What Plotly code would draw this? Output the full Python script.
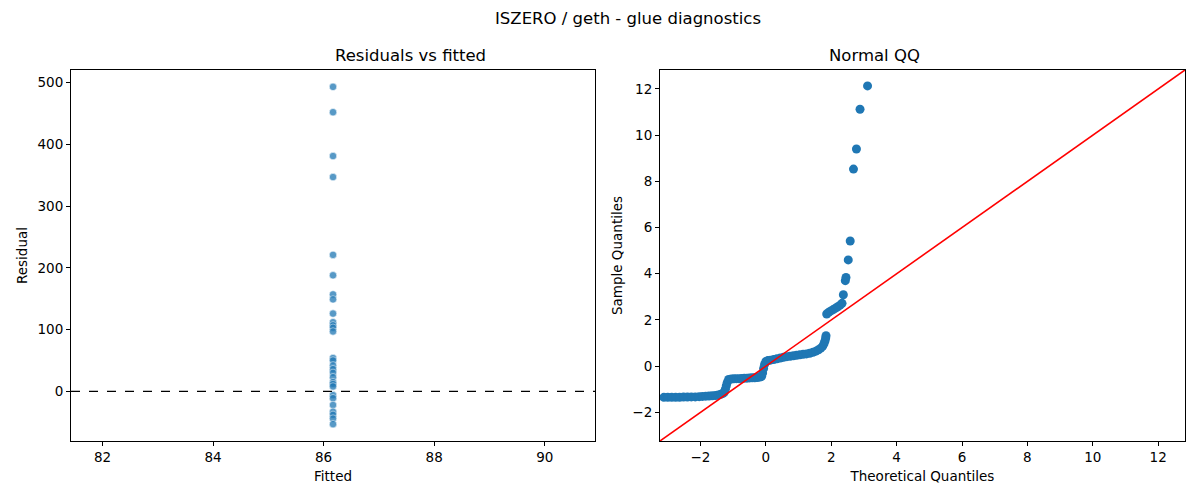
import plotly.graph_objects as go

# residuals vs fitted (single fitted value for every observation)
fitted_value = 86.17
residuals = [493, 452, 381, 347, 221, 188, 157, 149, 126, 112, 107, 103, 97,
             54, 50, 42, 36, 30, 23, 15, 12, 8, -6, -11, -22, -33, -38, -44, -53]

# normal QQ
theo_q = [-3.12, -3.0, -2.88, -2.76, -2.64, -2.52, -2.4, -2.28, -2.16, -2.04,
          -1.94, -1.84, -1.74, -1.64, -1.54, -1.46, -1.38, -1.31, -1.27, -1.24,
          -1.21, -1.18, -1.14, -1.06, -0.98, -0.9, -0.82, -0.74, -0.66, -0.58,
          -0.5, -0.42, -0.34, -0.26, -0.18, -0.13, -0.1, -0.07, -0.04, 0.0,
          0.06, 0.14, 0.24, 0.34, 0.44, 0.54, 0.64, 0.74, 0.84, 0.94, 1.04,
          1.14, 1.24, 1.34, 1.44, 1.53, 1.61, 1.68, 1.74, 1.78, 1.81, 1.83, 1.84,
          1.86, 1.92, 1.99, 2.06, 2.13, 2.2, 2.27, 2.33,
          2.37, 2.43, 2.45, 2.52, 2.58, 2.68, 2.77, 2.88, 3.11]
sample_q = [-1.35, -1.35, -1.35, -1.35, -1.35, -1.34, -1.34, -1.33, -1.33, -1.32,
            -1.31, -1.3, -1.29, -1.28, -1.27, -1.25, -1.22, -1.18, -1.12, -1.0,
            -0.85, -0.7, -0.58, -0.56, -0.55, -0.54, -0.54, -0.53, -0.52, -0.52,
            -0.51, -0.5, -0.5, -0.49, -0.47, -0.44, -0.3, -0.1, 0.08, 0.2,
            0.24, 0.26, 0.29, 0.32, 0.35, 0.38, 0.41, 0.43, 0.45, 0.47, 0.49,
            0.51, 0.53, 0.56, 0.6, 0.65, 0.71, 0.78, 0.87, 0.98, 1.1, 1.22, 1.32,
            2.26, 2.33, 2.39, 2.45, 2.51, 2.57, 2.64, 2.72,
            3.09, 3.7, 3.84, 4.6, 5.42, 8.53, 9.4, 11.12, 12.13]

qq_limits = [-3.24, 12.82]

BLUE = '#1f77b4'
FONT = 'DejaVu Sans'

# panel domains (page has an 8px body margin)
LEFT_X = [0.0525, 0.4892]
RIGHT_X = [0.5433, 0.9808]
PANEL_Y = [0.134, 0.876]

fig = go.Figure()

# left panel
fig.add_trace(go.Scatter(
    x=[fitted_value] * len(residuals), y=residuals, mode='markers',
    marker=dict(color=BLUE, opacity=0.75, size=7.5,
                line=dict(color='white', width=0.6)),
    xaxis='x', yaxis='y', showlegend=False))

# right panel
fig.add_trace(go.Scatter(
    x=theo_q, y=sample_q, mode='markers',
    marker=dict(color=BLUE, size=9, line=dict(width=0)),
    xaxis='x2', yaxis='y2', showlegend=False))
fig.add_trace(go.Scatter(
    x=qq_limits, y=qq_limits, mode='lines',
    line=dict(color='#ff0000', width=1.6),
    xaxis='x2', yaxis='y2', showlegend=False))

# axis ranges like matplotlib autoscale
pad_x = 0.05 * fitted_value * 1.1
r_lo, r_hi = min(residuals), max(residuals)
pad_y = 0.05 * (r_hi - r_lo)

axis_style = dict(showline=True, linecolor='black', linewidth=1, mirror=True,
                  ticks='outside', ticklen=4, tickcolor='black',
                  showgrid=False, zeroline=False,
                  tickfont=dict(size=13.5, color='black'),
                  title_font=dict(size=13.5, color='black'))

fig.update_layout(
    width=1200, height=500,
    margin=dict(l=0, r=0, t=0, b=0),
    paper_bgcolor='white', plot_bgcolor='white',
    font=dict(family=FONT, color='black'),
    xaxis=dict(domain=LEFT_X, range=[fitted_value - pad_x, fitted_value + pad_x],
               dtick=2, title=dict(text='Fitted', standoff=7), **axis_style),
    yaxis=dict(domain=PANEL_Y, range=[r_lo - pad_y, r_hi + pad_y],
               dtick=100, title=dict(text='Residual', standoff=6), **axis_style),
    xaxis2=dict(domain=RIGHT_X, range=qq_limits, dtick=2, anchor='y2',
                title=dict(text='Theoretical Quantiles', standoff=7), **axis_style),
    yaxis2=dict(domain=PANEL_Y, range=qq_limits, dtick=2, anchor='x2',
                title=dict(text='Sample Quantiles', standoff=6), **axis_style),
)

# dashed zero line on residual plot
fig.add_shape(type='line', xref='x domain', yref='y', x0=0, x1=1, y0=0, y1=0,
              line=dict(color='black', width=1.1, dash='dash'))

# titles
fig.add_annotation(text='ISZERO / geth - glue diagnostics', xref='paper', yref='paper',
                   x=(LEFT_X[0] + RIGHT_X[1]) / 2, y=0.98, yanchor='middle',
                   showarrow=False, font=dict(size=16.5))
fig.add_annotation(text='Residuals vs fitted', xref='paper', yref='paper',
                   x=sum(LEFT_X) / 2, y=0.904, yanchor='middle',
                   showarrow=False, font=dict(size=16.5))
fig.add_annotation(text='Normal QQ', xref='paper', yref='paper',
                   x=sum(RIGHT_X) / 2, y=0.904, yanchor='middle',
                   showarrow=False, font=dict(size=16.5))

fig.write_html('out.html')
